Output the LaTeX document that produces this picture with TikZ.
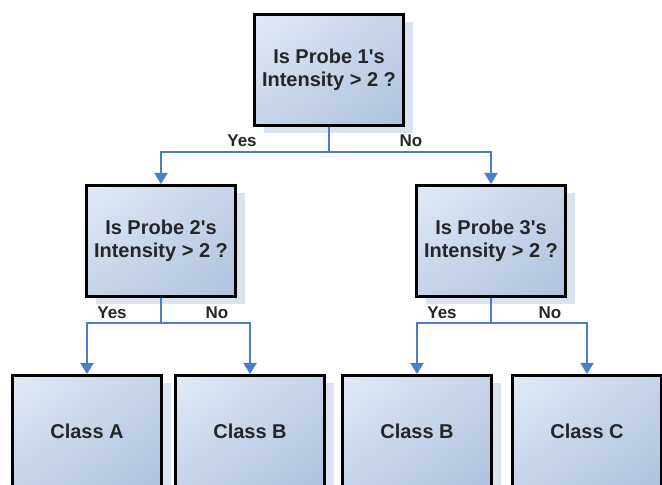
\documentclass[tikz,border=0pt]{standalone}
\usepackage{fontspec}
\setmainfont{Liberation Sans}
\usetikzlibrary{arrows.meta,shadows,shadings}
\definecolor{boxlight}{HTML}{E2EAF5}
\definecolor{boxmid}{HTML}{C6D4E9}
\definecolor{boxdark}{HTML}{AFC2DF}
\definecolor{boxshadow}{HTML}{DAE3F0}
\definecolor{edgeblue}{HTML}{4A7EC6}
\definecolor{textgray}{HTML}{262626}

\begin{document}
\begin{tikzpicture}[x=1pt,y=1pt,
  test/.style={draw=black,line width=3pt,minimum width=149pt,minimum height=111pt,
    upper left=boxlight,upper right=boxmid,lower left=boxmid,lower right=boxdark,
    drop shadow={shadow xshift=9pt,shadow yshift=-8pt,fill=boxshadow,opacity=1},
    font=\fontsize{20}{23}\selectfont\bfseries,align=center,text=textgray},
  edge/.style={draw=edgeblue,line width=2pt,-{Triangle[width=13pt,length=11pt]}},
  answer/.style={font=\fontsize{17}{20}\selectfont\bfseries,text=textgray}]
\clip (0,0) rectangle (662,485);
% TESTS
\node[test] (q1) at (329,415) {Is Probe 1\textquotesingle s\\Intensity > 2 ?};
\node[test] (q2) at (161,244) {Is Probe 2\textquotesingle s\\Intensity > 2 ?};
\node[test] (q3) at (491,244) {Is Probe 3\textquotesingle s\\Intensity > 2 ?};
% LEAVES
\node[test] (cA) at (87,54) {Class A};
\node[test] (cB) at (250,54) {Class B};
\node[test] (cB2) at (417,54) {Class B};
\node[test] (cC) at (587,54) {Class C};
% BRANCHES
\coordinate (j1) at (329,333);
\coordinate (j2) at (161,162);
\coordinate (j3) at (491,162);
\draw[edge] (q1.south) -- (j1) -| (q2.north);
\draw[edge] (j1) -| (q3.north);
\draw[edge] (q2.south) -- (j2) -| (cA.north);
\draw[edge] (j2) -| (cB.north);
\draw[edge] (q3.south) -- (j3) -| (cB2.north);
\draw[edge] (j3) -| (cC.north);
% ANSWERS
\node[answer] (y1) at (242,344) {Yes};
\node[answer] (n1) at (411,344) {No};
\node[answer] (y2) at (112,172) {Yes};
\node[answer] (n2) at (217,172) {No};
\node[answer] (y3) at (442,172) {Yes};
\node[answer] (n3) at (550,172) {No};
\end{tikzpicture}
\end{document}
